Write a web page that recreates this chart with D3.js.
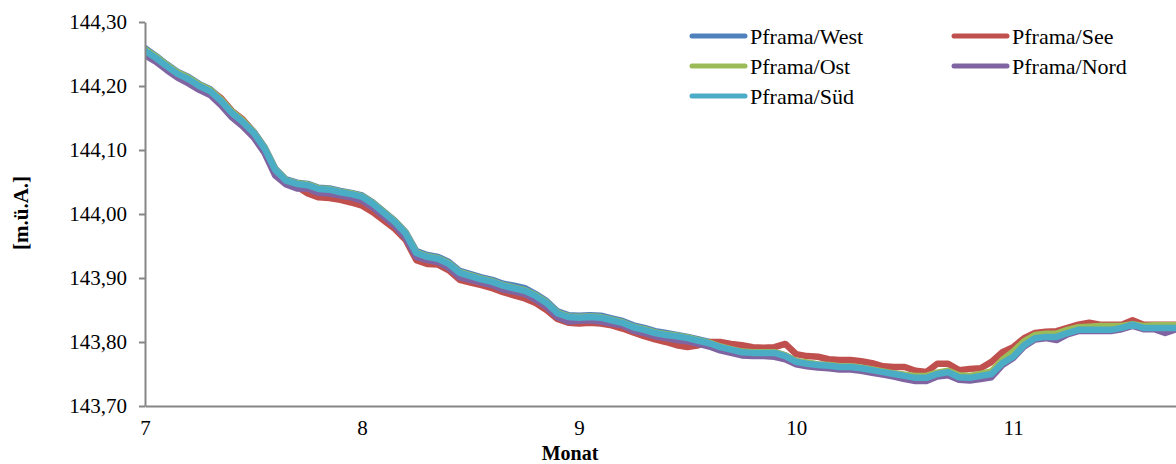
<!DOCTYPE html>
<html>
<head>
<meta charset="utf-8">
<script src="https://cdn.jsdelivr.net/npm/d3@7"></script>
<style>
  html, body { margin: 0; padding: 0; background: #fff; }
  svg { display: block; }
  text { font-family: "Liberation Serif", "Times New Roman", serif; fill: #000; }
</style>
</head>
<body>
<svg id="chart" width="1176" height="464"></svg>
<script>
// Month axis (fractional months, 7 = July)
const months = [
  7.00,7.05,7.10,7.15,7.20,7.25,7.30,7.35,7.40,7.45,
  7.50,7.55,7.60,7.65,7.70,7.75,7.80,7.85,7.90,7.95,
  8.00,8.05,8.10,8.15,8.20,8.25,8.30,8.35,8.40,8.45,
  8.50,8.55,8.60,8.65,8.70,8.75,8.80,8.85,8.90,8.95,
  9.00,9.05,9.10,9.15,9.20,9.25,9.30,9.35,9.40,9.45,
  9.50,9.55,9.60,9.65,9.70,9.75,9.80,9.85,9.90,9.95,
  10.00,10.05,10.10,10.15,10.20,10.25,10.30,10.35,10.40,10.45,
  10.50,10.55,10.60,10.65,10.70,10.75,10.80,10.85,10.90,10.95,
  11.00,11.05,11.10,11.15,11.20,11.25,11.30,11.35,11.40,11.45,
  11.50,11.55,11.60,11.65,11.70,11.75
];

// Water levels [m ü.A.] per gauge
const west = [
  144.259,144.247,144.234,144.222,144.214,144.203,144.195,144.180,144.161,144.147,
  144.129,144.105,144.071,144.054,144.049,144.047,144.041,144.040,144.036,144.033,
  144.029,144.018,144.004,143.990,143.972,143.942,143.936,143.933,143.925,143.911,
  143.906,143.901,143.897,143.891,143.888,143.884,143.875,143.864,143.848,143.842,
  143.841,143.842,143.841,143.837,143.833,143.826,143.822,143.817,143.814,143.811,
  143.808,143.804,143.800,143.794,143.790,143.786,143.785,143.784,143.784,143.779,
  143.770,143.767,143.765,143.764,143.762,143.762,143.760,143.757,143.754,143.751,
  143.748,143.745,143.745,143.751,143.754,143.746,143.745,143.748,143.751,143.768,
  143.778,143.796,143.807,143.809,143.809,143.815,143.820,143.820,143.820,143.820,
  143.823,143.828,143.823,143.823,143.823,143.823
];
const see = [
  144.254,144.243,144.230,144.218,144.210,144.200,144.193,144.181,144.161,144.148,
  144.128,144.103,144.068,144.050,144.043,144.032,144.026,144.025,144.022,144.018,
  144.013,144.003,143.990,143.977,143.960,143.928,143.922,143.921,143.912,143.897,
  143.893,143.889,143.884,143.878,143.873,143.868,143.861,143.850,143.836,143.830,
  143.829,143.830,143.829,143.826,143.821,143.815,143.809,143.804,143.800,143.795,
  143.792,143.795,143.800,143.800,143.797,143.795,143.792,143.791,143.792,143.797,
  143.781,143.778,143.777,143.773,143.772,143.772,143.770,143.767,143.762,143.761,
  143.761,143.755,143.753,143.766,143.766,143.756,143.758,143.759,143.769,143.784,
  143.792,143.806,143.814,143.816,143.817,143.822,143.827,143.830,143.827,143.827,
  143.827,143.834,143.827,143.827,143.827,143.827
];
const ost = [
  144.257,144.246,144.233,144.221,144.213,144.202,144.194,144.179,144.160,144.146,
  144.128,144.104,144.070,144.053,144.048,144.046,144.040,144.039,144.035,144.032,
  144.028,144.017,144.003,143.989,143.971,143.940,143.934,143.931,143.923,143.909,
  143.904,143.899,143.895,143.889,143.885,143.881,143.873,143.862,143.846,143.840,
  143.839,143.840,143.839,143.835,143.831,143.824,143.820,143.815,143.812,143.810,
  143.807,143.803,143.799,143.793,143.789,143.785,143.784,143.784,143.784,143.779,
  143.770,143.768,143.765,143.764,143.762,143.762,143.760,143.757,143.754,143.751,
  143.749,143.747,143.747,143.752,143.755,143.748,143.747,143.750,143.754,143.772,
  143.785,143.801,143.811,143.813,143.813,143.819,143.823,143.824,143.825,143.825,
  143.825,143.828,143.825,143.826,143.826,143.826
];
const nord = [
  144.248,144.238,144.225,144.213,144.204,144.194,144.186,144.170,144.151,144.137,
  144.120,144.096,144.060,144.046,144.040,144.040,144.033,144.032,144.029,144.026,
  144.021,144.010,143.996,143.982,143.963,143.933,143.928,143.925,143.916,143.901,
  143.897,143.893,143.889,143.882,143.879,143.875,143.866,143.855,143.839,143.832,
  143.833,143.834,143.832,143.829,143.826,143.818,143.814,143.809,143.806,143.803,
  143.801,143.797,143.793,143.787,143.783,143.779,143.778,143.778,143.777,143.773,
  143.765,143.762,143.760,143.759,143.757,143.757,143.755,143.752,143.749,143.746,
  143.742,143.739,143.739,143.746,143.748,143.741,143.740,143.742,143.745,143.764,
  143.775,143.793,143.804,143.806,143.803,143.812,143.817,143.817,143.817,143.817,
  143.820,143.825,143.820,143.820,143.814,143.820
];
const sued = [
  144.255,144.244,144.231,144.219,144.211,144.200,144.192,144.177,144.158,144.144,
  144.127,144.103,144.069,144.052,144.047,144.045,144.039,144.038,144.034,144.031,
  144.027,144.016,144.002,143.988,143.970,143.939,143.933,143.930,143.922,143.908,
  143.903,143.898,143.894,143.888,143.884,143.880,143.872,143.861,143.845,143.839,
  143.838,143.839,143.838,143.834,143.830,143.823,143.819,143.814,143.811,143.809,
  143.806,143.802,143.798,143.792,143.788,143.784,143.783,143.783,143.783,143.778,
  143.769,143.766,143.764,143.763,143.761,143.761,143.759,143.756,143.753,143.750,
  143.747,143.744,143.744,143.750,143.753,143.745,143.744,143.747,143.750,143.767,
  143.777,143.795,143.806,143.808,143.808,143.814,143.819,143.819,143.819,143.819,
  143.822,143.827,143.822,143.822,143.822,143.822
];

const seriesNames = ["Pframa/West", "Pframa/See", "Pframa/Ost", "Pframa/Nord", "Pframa/Süd"];
const seriesValues = [west, see, ost, nord, sued];
const seriesColors = ["#4F81BD", "#C0504D", "#9BBB59", "#8064A2", "#4BACC6"];

const xTicks = [7, 8, 9, 10, 11];
const yTicks = [143.70, 143.80, 143.90, 144.00, 144.10, 144.20, 144.30];

const svg = d3.select("#chart");
const plotLeft = 145, plotRight = 1176, plotTop = 22, plotBottom = 406;

const x = d3.scaleLinear().domain([7, 11.75]).range([plotLeft, plotRight]);
const y = d3.scaleLinear().domain([143.70, 144.30]).range([plotBottom, plotTop]);

const deLocale = d3.formatLocale({ decimal: ",", thousands: ".", grouping: [3], currency: ["", " €"] });
const fmt = deLocale.format(".2f");

// plot clip
svg.append("defs").append("clipPath").attr("id", "plotClip")
  .append("rect").attr("x", plotLeft).attr("y", 0)
  .attr("width", plotRight - plotLeft).attr("height", plotBottom + 4);

// series lines
const line = d3.line()
  .x((d, i) => x(months[i]))
  .y(d => y(d));

const lines = svg.append("g").attr("clip-path", "url(#plotClip)");
seriesValues.forEach((vals, k) => {
  lines.append("path")
    .datum(vals)
    .attr("d", line)
    .attr("fill", "none")
    .attr("stroke", seriesColors[k])
    .attr("stroke-width", 6.5)
    .attr("stroke-linejoin", "round")
    .attr("stroke-linecap", "round");
});

// axes
const axisColor = "#868686";
const yAxis = svg.append("g")
  .attr("transform", `translate(${plotLeft},0)`)
  .call(d3.axisLeft(y).tickValues(yTicks).tickFormat(fmt).tickSize(6).tickSizeOuter(0).tickPadding(12));
const xAxis = svg.append("g")
  .attr("transform", `translate(0,${plotBottom})`)
  .call(d3.axisBottom(x).tickValues(xTicks).tickFormat(d3.format("d")).tickSize(0).tickSizeOuter(0).tickPadding(14));

[yAxis, xAxis].forEach(g => {
  g.select(".domain").attr("stroke", axisColor).attr("stroke-width", 2);
  g.selectAll(".tick line").attr("stroke", axisColor).attr("stroke-width", 2);
  g.selectAll(".tick text")
    .attr("font-family", "'Liberation Serif', 'Times New Roman', serif")
    .attr("font-size", 21)
    .attr("fill", "#000");
});

// axis titles
svg.append("text")
  .attr("x", 570).attr("y", 460)
  .attr("text-anchor", "middle")
  .attr("font-size", 20).attr("font-weight", "bold")
  .text("Monat");

svg.append("text")
  .attr("transform", "translate(28,213) rotate(-90)")
  .attr("text-anchor", "middle")
  .attr("font-size", 21).attr("font-weight", "bold")
  .text("[m.ü.A.]");

// legend
const legendCols = [692, 954];
const legendRows = [36, 66, 96];
const legend = svg.append("g");
seriesNames.forEach((name, k) => {
  const lx = legendCols[k % 2];
  const ly = legendRows[Math.floor(k / 2)];
  legend.append("line")
    .attr("x1", lx).attr("x2", lx + 53)
    .attr("y1", ly).attr("y2", ly)
    .attr("stroke", seriesColors[k])
    .attr("stroke-width", 5)
    .attr("stroke-linecap", "round");
  legend.append("text")
    .attr("x", lx + 58).attr("y", ly)
    .attr("dy", "0.35em")
    .attr("font-size", 22)
    .text(name);
});
</script>
</body>
</html>
